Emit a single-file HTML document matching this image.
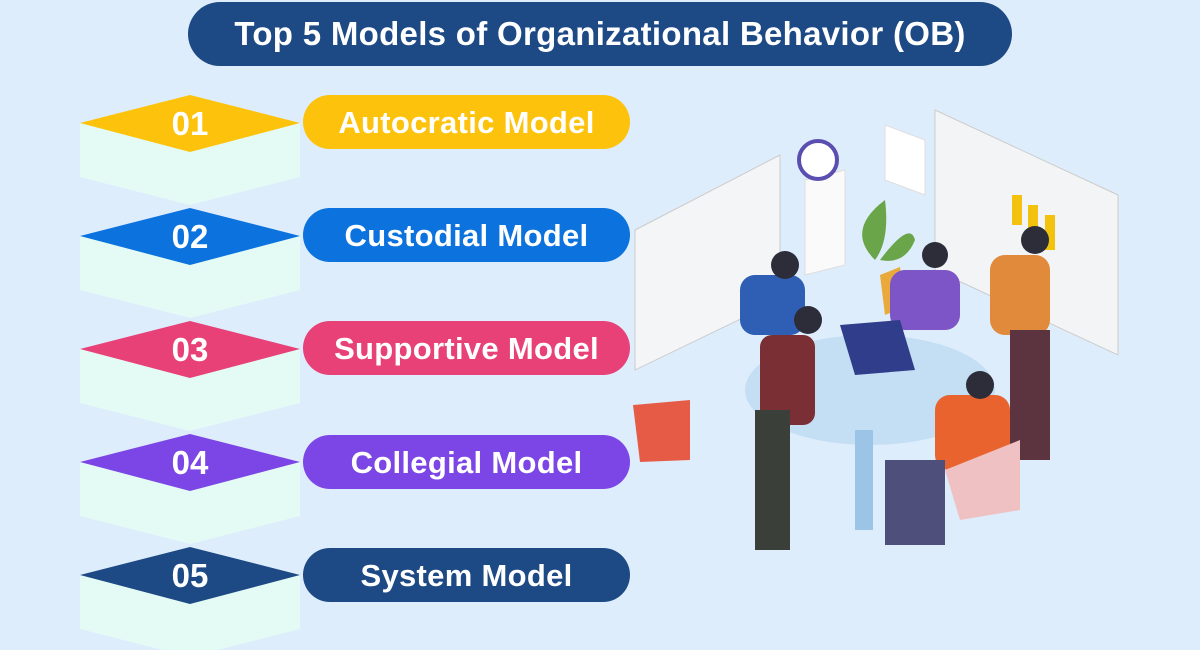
<!DOCTYPE html>
<html><head><style>
body{margin:0;width:1200px;height:650px;background:#deedfb;overflow:hidden;position:relative;font-family:"Liberation Sans",sans-serif}
.t{position:absolute;left:188px;top:2px;width:824px;height:64px;border-radius:32px;background:#1d4a85;color:#fff;font-weight:bold;font-size:33px;text-align:center;line-height:64px;letter-spacing:0.3px}
.p{position:absolute;left:303px;width:327px;height:54px;border-radius:27px;color:#fff;font-weight:bold;font-size:31px;text-align:center;line-height:56px;letter-spacing:0.3px}
.n{position:absolute;left:80px;width:220px;text-align:center;color:#fff;font-weight:bold;font-size:33px;line-height:58px}
</style></head><body>
<div class="t">Top 5 Models of Organizational Behavior (OB)</div>
<svg width="1200" height="650" style="position:absolute;left:0;top:0">
<g id="d">
<polygon points="80,123 300,123 300,177 190,205 80,177" fill="#e4fbf5"/>
</g>
<use href="#d" y="113"/><use href="#d" y="226"/><use href="#d" y="339"/><use href="#d" y="452"/>
<polygon points="80,123 190,95 300,123 190,152" fill="#fdc20b"/>
<polygon points="80,236 190,208 300,236 190,265" fill="#0b72de"/>
<polygon points="80,349 190,321 300,349 190,378" fill="#e74178"/>
<polygon points="80,462 190,434 300,462 190,491" fill="#7c46e6"/>
<polygon points="80,575 190,547 300,575 190,604" fill="#1d4a85"/>
<!-- illustration -->
<polygon points="635,230 780,155 780,300 635,370" fill="#f4f5f7" stroke="#ccc"/>
<polygon points="935,110 1118,195 1118,355 935,270" fill="#f3f4f6" stroke="#ccc"/>
<polygon points="885,125 925,140 925,195 885,180" fill="#fff" stroke="#ddd"/>
<polygon points="805,180 845,170 845,265 805,275" fill="#fafafa" stroke="#ddd"/>
<circle cx="818" cy="160" r="19" fill="#fff" stroke="#5a4fb0" stroke-width="4"/>
<rect x="1012" y="195" width="10" height="30" fill="#f2c20f"/><rect x="1028" y="205" width="10" height="30" fill="#f2c20f"/><rect x="1045" y="215" width="10" height="35" fill="#f2c20f"/>
<ellipse cx="870" cy="390" rx="125" ry="55" fill="#c4def4"/>
<rect x="855" y="430" width="18" height="100" fill="#9cc4e6"/>
<path d="M880 275 l20 -8 5 40 -20 8z" fill="#e9a93b"/>
<path d="M875 260 q-30 -30 10 -60 q5 40 -10 60z M880 260 q30-40 35-20 q-10 25-35 20z" fill="#6aa54a"/>
<rect x="740" y="275" width="65" height="60" rx="15" fill="#2e5fb4"/>
<circle cx="785" cy="265" r="14" fill="#2d2d3a"/>
<rect x="890" y="270" width="70" height="60" rx="15" fill="#7d55c7"/>
<circle cx="935" cy="255" r="13" fill="#2d2d3a"/>
<rect x="990" y="255" width="60" height="80" rx="15" fill="#e28a3c"/>
<circle cx="1035" cy="240" r="14" fill="#2d2d3a"/>
<rect x="1010" y="330" width="40" height="130" fill="#5b3440"/>
<rect x="760" y="335" width="55" height="90" rx="12" fill="#7a2f35"/>
<circle cx="808" cy="320" r="14" fill="#2d2d3a"/>
<rect x="755" y="410" width="35" height="140" fill="#3b3f3a"/>
<rect x="935" y="395" width="75" height="75" rx="15" fill="#e8632e"/>
<circle cx="980" cy="385" r="14" fill="#2d2d3a"/>
<rect x="885" y="460" width="60" height="85" fill="#4e4f7a"/>
<polygon points="945,470 1020,440 1020,510 960,520" fill="#f0c1c3"/>
<polygon points="840,325 900,320 915,370 855,375" fill="#2f3d8a"/>
<polygon points="633,405 690,400 690,460 640,462" fill="#e65b46"/>
</svg>
<div class="n" style="top:95px">01</div>
<div class="n" style="top:208px">02</div>
<div class="n" style="top:321px">03</div>
<div class="n" style="top:434px">04</div>
<div class="n" style="top:547px">05</div>
<div class="p" style="top:95px;background:#fdc20b">Autocratic Model</div>
<div class="p" style="top:208px;background:#0b72de">Custodial Model</div>
<div class="p" style="top:321px;background:#e74178">Supportive Model</div>
<div class="p" style="top:435px;background:#7c46e6">Collegial Model</div>
<div class="p" style="top:548px;background:#1d4a85">System Model</div>
</body></html>
